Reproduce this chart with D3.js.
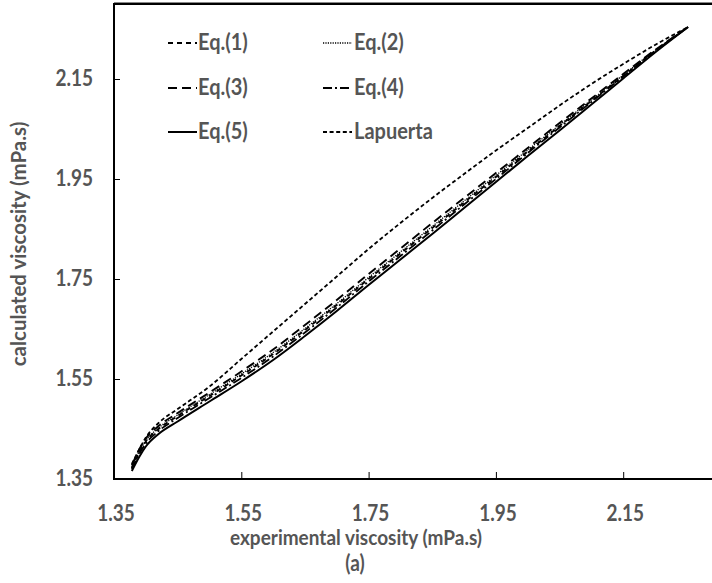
<!DOCTYPE html>
<html>
<head>
<meta charset="utf-8">
<script src="https://cdn.jsdelivr.net/npm/d3@7"></script>
<style>
  html, body { margin: 0; padding: 0; background: #fff; }
  svg { display: block; }
  text { font-family: Lato, "Open Sans", sans-serif; font-weight: bold; fill: #555; }
</style>
</head>
<body>
<svg id="chart" width="712" height="583"></svg>
<script>
// ---- data ----
const xExp = [1.378,1.39,1.40,1.42,1.45,1.50,1.55,1.60,1.65,1.70,1.75,1.80,1.85,1.90,1.95,2.00,2.05,2.10,2.15,2.20,2.252];
const eq1 = [1.372,1.404,1.425,1.450,1.476,1.516,1.557,1.600,1.648,1.698,1.750,1.801,1.852,1.903,1.954,2.005,2.056,2.106,2.156,2.206,2.254];
const eq2 = [1.374,1.406,1.427,1.452,1.478,1.519,1.560,1.603,1.651,1.701,1.753,1.804,1.855,1.906,1.957,2.008,2.058,2.108,2.158,2.207,2.254];
const eq3 = [1.377,1.410,1.431,1.456,1.482,1.523,1.565,1.609,1.658,1.708,1.760,1.811,1.862,1.912,1.962,2.012,2.062,2.111,2.160,2.208,2.254];
const eq4 = [1.370,1.401,1.421,1.446,1.472,1.512,1.552,1.595,1.643,1.693,1.745,1.796,1.847,1.899,1.950,2.002,2.053,2.104,2.155,2.205,2.254];
const eq5 = [1.366,1.395,1.415,1.440,1.465,1.505,1.545,1.588,1.636,1.686,1.738,1.789,1.840,1.892,1.944,1.996,2.047,2.099,2.151,2.203,2.254];
const lapuerta = [1.380,1.410,1.433,1.462,1.490,1.535,1.590,1.645,1.700,1.755,1.810,1.862,1.912,1.960,2.007,2.052,2.097,2.140,2.180,2.218,2.254];
const seriesNames = ["Eq.(1)","Eq.(2)","Eq.(3)","Eq.(4)","Eq.(5)","Lapuerta"];
const tickValues = [1.35, 1.55, 1.75, 1.95, 2.15];
const xTitle = "experimental viscosity (mPa.s)";
const yTitle = "calculated viscosity (mPa.s)";
const panelLabel = "(a)";

// ---- styles ----
const styles = {
  "Eq.(1)":   { dash: "5,4",      width: 1.8 },
  "Eq.(2)":   { dash: "1.2,1.2",  width: 1.3 },
  "Eq.(3)":   { dash: "9,5",      width: 1.9 },
  "Eq.(4)":   { dash: "9,3,2,3",  width: 1.8 },
  "Eq.(5)":   { dash: null,       width: 2.0 },
  "Lapuerta": { dash: "4,2.6",    width: 1.8 }
};
const series = [
  { name: "Eq.(5)", values: eq5 },
  { name: "Eq.(4)", values: eq4 },
  { name: "Eq.(1)", values: eq1 },
  { name: "Eq.(2)", values: eq2 },
  { name: "Eq.(3)", values: eq3 },
  { name: "Lapuerta", values: lapuerta }
];

const svg = d3.select("#chart");
const mLeft = 114, mTop = 4, mBottom = 479;
const x = d3.scaleLinear().domain([1.35, 2.30]).range([mLeft, mLeft + 0.95 * 636.5]);
const y = d3.scaleLinear().domain([1.35, 2.30]).range([mBottom, mTop]);

// lines
const line = d3.line().x(d => x(d[0])).y(d => y(d[1])).curve(d3.curveMonotoneX);
const g = svg.append("g");
series.forEach(s => {
  const st = styles[s.name];
  g.append("path")
    .datum(xExp.map((v, i) => [v, s.values[i]]))
    .attr("d", line)
    .attr("fill", "none")
    .attr("stroke", "#000")
    .attr("stroke-width", st.width)
    .attr("stroke-dasharray", st.dash);
});

// frame
svg.append("line").attr("x1", mLeft).attr("x2", 712).attr("y1", mTop).attr("y2", mTop)
  .attr("stroke", "#000").attr("stroke-width", 2);
svg.append("line").attr("x1", mLeft).attr("x2", 712).attr("y1", mTop - 1.5).attr("y2", mTop - 1.5)
  .attr("stroke", "#888").attr("stroke-width", 1);

// axes with inner ticks
const xAxis = d3.axisBottom(x).tickValues(tickValues.slice(1)).tickSize(-7).tickFormat("");
const gx = svg.append("g").attr("transform", `translate(0,${mBottom})`).call(xAxis);
gx.select(".domain").remove();
gx.selectAll(".tick line").attr("stroke", "#000").attr("stroke-width", 1);
svg.append("line").attr("x1", mLeft - 1).attr("x2", 712).attr("y1", mBottom).attr("y2", mBottom)
  .attr("stroke", "#000").attr("stroke-width", 2);

const yAxis = d3.axisLeft(y).tickValues(tickValues.slice(1)).tickSize(-6).tickFormat("");
const gy = svg.append("g").attr("transform", `translate(${mLeft},0)`).call(yAxis);
gy.select(".domain").remove();
gy.selectAll(".tick line").attr("stroke", "#000").attr("stroke-width", 1);
svg.append("line").attr("x1", mLeft).attr("x2", mLeft).attr("y1", mTop - 1).attr("y2", mBottom + 1)
  .attr("stroke", "#000").attr("stroke-width", 2);

// helper for vertically stretched text
function label(tx, ty, str, size, anchor, sy, rot) {
  return svg.append("text")
    .attr("transform", `translate(${tx},${ty})` + (rot ? ` rotate(${rot})` : "") + ` scale(1,${sy})`)
    .attr("text-anchor", anchor)
    .style("font-size", size + "px")
    .text(str);
}

// tick labels
tickValues.forEach(v => {
  label(x(v) + 2, 521, v.toFixed(2), 19, "middle", 1.2);
  label(93, y(v) + 7, v.toFixed(2), 19, "end", 1.2);
});

// titles
label(356, 545, xTitle, 19, "middle", 1.1);
label(355, 571, panelLabel, 19, "middle", 1.15);
label(26, 244, yTitle, 20.5, "middle", 1.05, -90);

// legend
const legendPos = [
  { name: "Eq.(1)",   lx: 168, tx: 198, ty: 43 },
  { name: "Eq.(2)",   lx: 323, tx: 354, ty: 43 },
  { name: "Eq.(3)",   lx: 168, tx: 198, ty: 88 },
  { name: "Eq.(4)",   lx: 323, tx: 354, ty: 88 },
  { name: "Eq.(5)",   lx: 168, tx: 198, ty: 132 },
  { name: "Lapuerta", lx: 323, tx: 354, ty: 132 }
];
legendPos.forEach(p => {
  const st = styles[p.name];
  svg.append("line")
    .attr("x1", p.lx).attr("x2", p.lx + 29).attr("y1", p.ty).attr("y2", p.ty)
    .attr("stroke", "#000").attr("stroke-width", st.width)
    .attr("stroke-dasharray", st.dash);
  label(p.tx, p.ty + 7, p.name, 20, "start", 1.1);
});
</script>
</body>
</html>
